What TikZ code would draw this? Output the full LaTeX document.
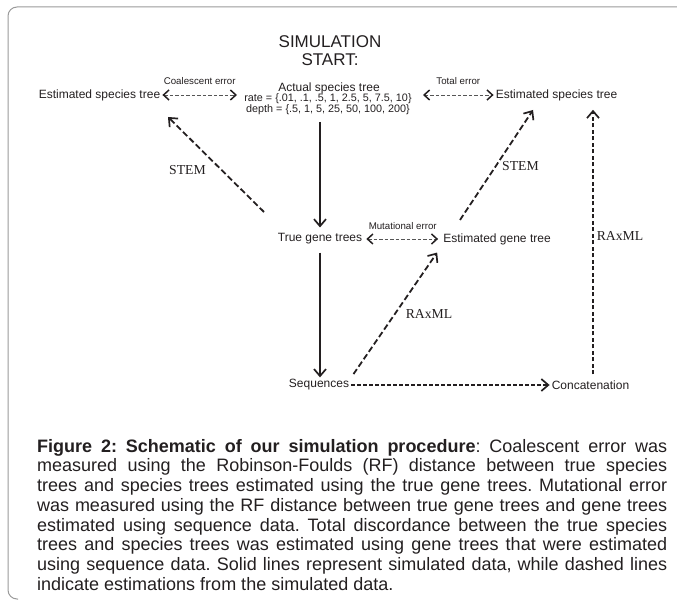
\documentclass[tikz,border=0pt]{standalone}
\usepackage{fontspec}
\setmainfont{Liberation Sans}
\newfontfamily\toolfont{Liberation Serif}
\usetikzlibrary{arrows.meta,positioning,calc}
\definecolor{framegray}{HTML}{9A9A9A}
\definecolor{inkdark}{HTML}{231F20}
\definecolor{errgray}{HTML}{555555}
\newcommand\tightparams{\lineskiplimit=-10pt\lineskip=0pt\relax}

\begin{document}
\begin{tikzpicture}[
  font=\fontsize{12}{14}\selectfont,
  chevron/.tip={Straight Barb[length=7pt,width=12pt,line width=1.7pt]},
  errtip/.tip={Straight Barb[length=5.5pt,width=10pt,line width=1.5pt,color=inkdark]},
  >=chevron,
  treelabel/.style={
    inner sep=2pt,
    text=inkdark
  },
  errlabel/.style={
    font=\fontsize{9.7}{11}\selectfont,
    inner sep=1pt,
    text=inkdark
  },
  toollabel/.style={
    font=\toolfont\fontsize{13.7}{15}\selectfont,
    inner sep=1pt,
    text=inkdark
  },
  errarrow/.style={errtip-errtip, draw=errgray, line width=0.8pt, dash pattern=on 3.5pt off 2pt},
  simarrow/.style={->, draw=inkdark, line width=1.4pt},
  estarrow/.style={->, draw=inkdark, line width=1.8pt, dash pattern=on 6pt off 3pt}
]

  \useasboundingbox (0pt,0pt) rectangle (677pt,-601pt);

  % Figure frame
  \draw[framegray, line width=1pt, rounded corners=9pt] (677pt,-7pt) -- (8pt,-7pt) -- (8pt,-599pt) -- (18pt,-599pt);

  % Simulation start and actual species tree
  \node[font=\fontsize{17}{18}\selectfont, align=center, inner sep=0pt, text=inkdark] (simstart) at (330pt,-51pt) {SIMULATION\\START:};
  \node[treelabel] (actual) at (329pt,-88pt) {Actual species tree};
  \node[font=\fontsize{10.8}{8.5}\selectfont, align=center, inner sep=1pt, text=inkdark] (params) at (328pt,-104pt) {\tightparams
    rate = \{.01, .1, .5, 1, 2.5, 5, 7.5, 10\}\\
    depth = \{.5, 1, 5, 25, 50, 100, 200\}
  };

  % Estimated species trees
  \node[treelabel] (estLeft) at (99.5pt,-95pt) {Estimated species tree};
  \node[treelabel] (estRight) at (556.5pt,-95pt) {Estimated species tree};

  % Gene trees
  \node[treelabel] (truegene) at (320pt,-239pt) {True gene trees};
  \node[treelabel] (estgene) at (497pt,-239pt) {Estimated gene tree};

  % Sequences and concatenation
  \node[treelabel] (seq) at (319pt,-385pt) {Sequences};
  \node[treelabel] (concat) at (590.5pt,-385pt) {Concatenation};

  % Free ends of the connectors
  \coordinate (coalEnd) at (237pt,-95pt);
  \coordinate (totalStart) at (423pt,-95pt);
  \coordinate (stemLfrom) at (264pt,-212pt);
  \coordinate (stemLto) at (168pt,-117pt);
  \coordinate (stemRfrom) at (460pt,-220pt);
  \coordinate (stemRto) at (533pt,-110pt);
  \coordinate (raxV) at (593pt,0pt);

  % Error comparisons
  \draw[errarrow] (estLeft.east) -- (coalEnd) node[errlabel, midway, above=9pt] (coalLabel) {Coalescent error};
  \draw[errarrow] (totalStart) -- (estRight.west) node[errlabel, midway, above=9pt] (totalLabel) {Total error};
  \draw[errarrow, shorten <=2pt, shorten >=3pt] (truegene.east) -- (estgene.west) node[errlabel, midway, above=8pt] (mutLabel) {Mutational error};

  % Simulated data
  \draw[simarrow, shorten <=6pt, shorten >=4pt] (params.south -| truegene.north) -- (truegene.north);
  \draw[simarrow, shorten <=6pt] (truegene.south) -- (truegene.south |- seq.north);

  % Estimations
  \draw[estarrow] (stemLfrom) -- (stemLto);
  \draw[estarrow] (stemRfrom) -- (stemRto);
  \draw[estarrow, shorten <=4pt, shorten >=7pt] (seq.north east) -- (estgene.south west);
  \draw[estarrow, line width=1.1pt, dash pattern=on 4pt off 2.5pt, shorten <=4pt, shorten >=7pt] (concat.north -| raxV) -- (estRight.south -| raxV);
  \draw[estarrow, line width=1.1pt, dash pattern=on 3.5pt off 2.5pt] (seq.east) -- (concat.west);

  \node[toollabel] (stemLlabel) at (187.5pt,-170pt) {STEM};
  \node[toollabel] (stemRlabel) at (520.5pt,-166pt) {STEM};
  \node[toollabel] (raxDlabel) at (429pt,-314pt) {RAxML};
  \node[toollabel] (raxVlabel) at (620pt,-236pt) {RAxML};

  % Caption
  \node[anchor=north west, inner sep=0pt, text width=630pt, align=justify, font=\fontsize{18}{19.7}\selectfont, text=inkdark] (caption) at (37pt,-439pt) {\frenchspacing\tolerance=10000\hbadness=10000
    \textbf{Figure 2: Schematic of our simulation procedure}: Coalescent error was\linebreak
    measured using the Robinson-Foulds (RF) distance between true species\linebreak
    trees and species trees estimated using the true gene trees. Mutational error\linebreak
    was measured using the RF distance between true gene trees and gene trees\linebreak
    estimated using sequence data. Total discordance between the true species\linebreak
    trees and species trees was estimated using gene trees that were estimated\linebreak
    using sequence data. Solid lines represent simulated data, while dashed lines\linebreak
    indicate estimations from the simulated data.};

\end{tikzpicture}
\end{document}
